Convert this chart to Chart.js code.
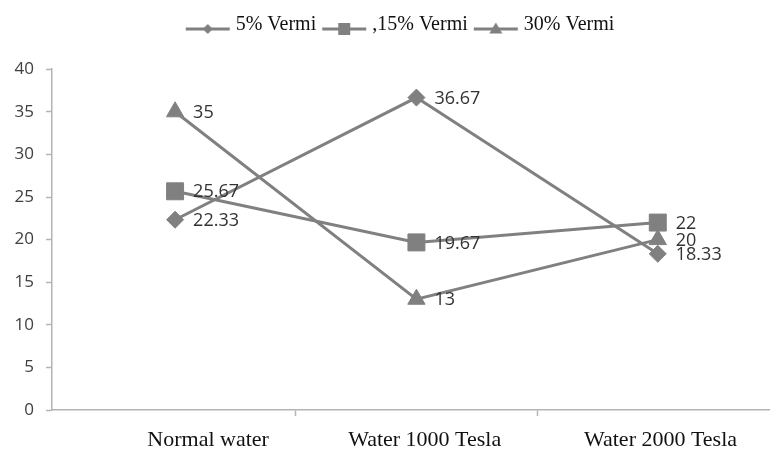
<!DOCTYPE html>
<html><head><meta charset="utf-8">
<script src="https://cdn.jsdelivr.net/npm/chart.js@4/dist/chart.umd.min.js"></script>
<style>html,body{margin:0;padding:0;background:#fff}#wrap{width:770px;height:450px}</style>
</head><body><div id="wrap"><canvas id="c" width="770" height="450"></canvas></div>
<script>
// ---- data ----
const categories = ['Normal water', 'Water 1000 Tesla', 'Water 2000 Tesla'];
const seriesNames = ['5% Vermi', ',15% Vermi', '30% Vermi'];
const vermi5 = [22.33, 36.67, 18.33];
const vermi15 = [25.67, 19.67, 22];
const vermi30 = [35, 13, 20];
const yTickMin = 0, yTickMax = 40, yTickStep = 5;

// ---- style ----
const GRAY = '#808080';
const AXIS = '#b4b4b4';
const pointStyles = ['rectRot', 'rect', 'triangle'];
const pointRadii = [8.5, 12, 10];
const labelNudge = [12, 3, 1]; // leading spaces to mimic original label placement
const LEGEND_SHIFT = 17;

function legendIcon(style) {
  const c = document.createElement('canvas');
  c.width = 46; c.height = 28;
  const g = c.getContext('2d');
  const cy = 18;
  g.strokeStyle = GRAY; g.fillStyle = GRAY; g.lineWidth = 3;
  g.beginPath(); g.moveTo(1, cy); g.lineTo(45, cy); g.stroke();
  g.beginPath();
  if (style === 'rectRot') { g.moveTo(23, cy - 5); g.lineTo(28, cy); g.lineTo(23, cy + 5); g.lineTo(18, cy); }
  else if (style === 'rect') { g.rect(17, cy - 6, 12, 12); }
  else { g.moveTo(23, cy - 6.5); g.lineTo(29.5, cy + 4.5); g.lineTo(16.5, cy + 4.5); }
  g.closePath(); g.fill();
  return c;
}
const icons = pointStyles.map(legendIcon);

const seriesValues = [vermi5, vermi15, vermi30];
const datasets = seriesValues.map((vals, i) => ({
  label: seriesNames[i],
  data: vals.map((v, j) => ({ x: j, y: v })),
  borderColor: GRAY,
  backgroundColor: GRAY,
  borderWidth: 3,
  pointStyle: pointStyles[i],
  pointRadius: pointRadii[i],
  pointHoverRadius: pointRadii[i],
  pointBackgroundColor: GRAY,
  pointBorderColor: GRAY,
  pointBorderWidth: 1,
  tension: 0,
  clip: false
}));

const valueLabels = {
  id: 'valueLabels',
  afterDatasetsDraw(chart) {
    const ctx = chart.ctx;
    ctx.save();
    ctx.font = '18px "Open Sans"';
    ctx.fillStyle = '#333333';
    ctx.textAlign = 'left';
    ctx.textBaseline = 'middle';
    chart.data.datasets.forEach((ds, i) => {
      chart.getDatasetMeta(i).data.forEach((pt, j) => {
        ctx.fillText(String(ds.data[j].y), pt.x + 18, pt.y + 1);
      });
    });
    ctx.restore();
  }
};

const legendShift = {
  id: 'legendShift',
  afterInit(chart) {
    const lg = chart.legend;
    if (!lg) return;
    const orig = lg.draw.bind(lg);
    lg.draw = function () {
      const c = this.ctx;
      c.save(); c.translate(LEGEND_SHIFT, 0); orig(); c.restore();
    };
  }
};

new Chart(document.getElementById('c'), {
  type: 'line',
  data: { datasets },
  plugins: [valueLabels, legendShift],
  options: {
    responsive: false,
    animation: false,
    layout: { autoPadding: false, padding: { top: 5, left: 0, right: 0, bottom: 0 } },
    plugins: {
      tooltip: { enabled: false },
      title: { display: true, text: ' ', weight: 500, font: { size: 1 }, padding: { top: 0, bottom: 23 } },
      legend: {
        position: 'top',
        labels: {
          usePointStyle: true,
          pointStyleWidth: 36,
          padding: 10,
          color: '#111111',
          font: { family: '"Liberation Serif"', size: 20 },
          generateLabels(chart) {
            const items = Chart.defaults.plugins.legend.labels.generateLabels(chart);
            return items.map((it, i) => Object.assign(it, { pointStyle: icons[i], lineWidth: 0 }));
          }
        }
      }
    },
    scales: {
      x: {
        type: 'linear',
        position: 'bottom',
        min: -0.51,
        max: 2.465,
        afterFit(s) { s.height = 40; s.paddingLeft = 0; s.paddingRight = 0; },
        afterBuildTicks(s) {
          s.ticks = s.ticks.filter(t => t.value >= s.min && t.value <= s.max);
        },
        ticks: {
          stepSize: 0.5,
          includeBounds: false,
          autoSkip: false,
          maxRotation: 0,
          padding: 11,
          color: '#111111',
          font: { family: '"Liberation Serif"', size: 22 },
          callback(v) {
            if (Number.isInteger(v) && categories[v] !== undefined) {
              return '\u00A0'.repeat(labelNudge[v]) + categories[v];
            }
            return '';
          }
        },
        grid: {
          display: true,
          drawOnChartArea: false,
          drawTicks: true,
          tickLength: 6,
          tickWidth: 1.5,
          tickColor(ctx) {
            const v = ctx.tick ? ctx.tick.value : NaN;
            return (v > 0 && v < categories.length - 1 && Math.abs(v - Math.floor(v) - 0.5) < 1e-9) ? AXIS : 'rgba(0,0,0,0)';
          }
        },
        border: { display: true, color: AXIS, width: 1.5 }
      },
      y: {
        min: yTickMin,
        max: yTickMax,
        afterFit(s) { s.width = 52; },
        ticks: {
          stepSize: yTickStep,
          padding: 12,
          color: '#404040',
          font: { family: '"Open Sans"', size: 17 }
        },
        grid: {
          display: true,
          drawOnChartArea: false,
          drawTicks: true,
          tickLength: 6,
          tickWidth: 1.5,
          tickColor: AXIS
        },
        border: { display: true, color: AXIS, width: 1.5 }
      }
    }
  }
});
</script>
</body></html>
